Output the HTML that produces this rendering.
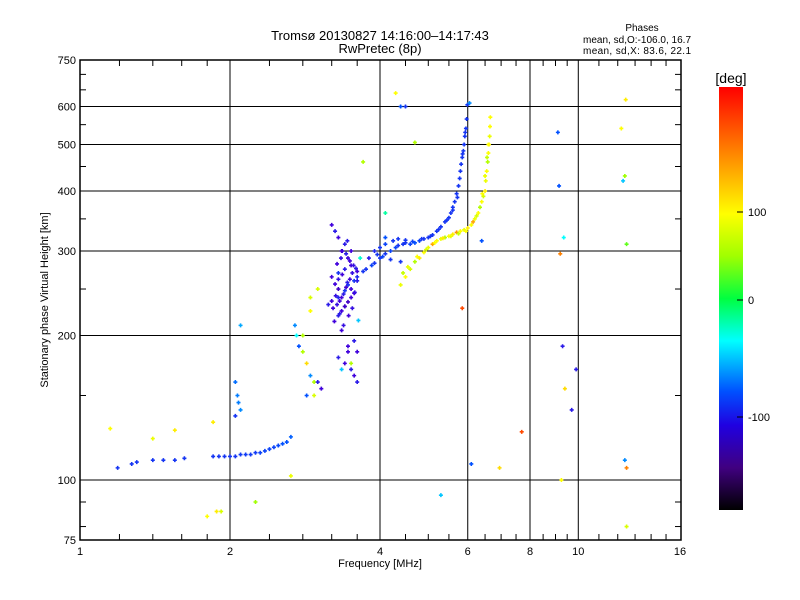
<!DOCTYPE html>
<html><head><meta charset="utf-8"><style>
body{margin:0;background:#fff;}
svg{display:block;font-family:"Liberation Sans",sans-serif;}
</style></head><body>
<svg id="chart" width="800" height="600" viewBox="0 0 800 600">
<rect width="800" height="600" fill="#fff"/>
<g id="grid"></g>
<g id="marks"></g>
<rect x="80" y="60" width="601" height="480" fill="none" stroke="#000" stroke-width="1.5"/>
<g id="ticks"></g>
<text x="380" y="40" font-size="13" text-anchor="middle">Tromsø 20130827 14:16:00–14:17:43</text>
<text x="380" y="53" font-size="13" text-anchor="middle">RwPretec (8p)</text>
<text x="642" y="31" font-size="10" text-anchor="middle">Phases</text>
<text x="583" y="43" font-size="10" textLength="108">mean, sd,O:-106.0, 16.7</text>
<text x="583" y="54" font-size="10" textLength="108">mean, sd,X:  83.6, 22.1</text>
<text x="380" y="567" font-size="11" text-anchor="middle">Frequency [MHz]</text>
<text transform="translate(48,300) rotate(-90)" font-size="11" text-anchor="middle">Stationary phase Virtual Height [km]</text>
<defs><linearGradient id="cb" x1="0" y1="0" x2="0" y2="1">
<stop offset="0" stop-color="#ff0000"/><stop offset="0.15" stop-color="#ff8000"/><stop offset="0.3" stop-color="#ffff00"/><stop offset="0.4" stop-color="#a0ff00"/><stop offset="0.5" stop-color="#00ff40"/><stop offset="0.6" stop-color="#00ffff"/><stop offset="0.72" stop-color="#0050ff"/><stop offset="0.8" stop-color="#2000e0"/><stop offset="0.9" stop-color="#400080"/><stop offset="1" stop-color="#000000"/>
</linearGradient></defs>
<rect x="719" y="87" width="24" height="423" fill="url(#cb)"/>
<text x="731" y="83" font-size="14" text-anchor="middle">[deg]</text>
<g id="cbt"></g>
</svg>
<script>
const xTickVals=[1,2,4,6,8,10,16];
const xTickLabels=["1","2","4","6","8","10","16"];
const yTickVals=[75,100,200,300,400,500,600,750];
const yTickLabels=["75","100","200","300","400","500","600","750"];
const cbVals=[100,0,-100];
const cbLabels=["100","0","-100"];
// O-mode trace
const oFreq=[1.19,1.27,1.3,1.4,1.47,1.55,1.62,1.85,1.9,1.95,2.0,2.05,2.1,2.15,2.2,2.25,2.3,2.35,2.4,2.45,2.5,2.55,2.6,2.65,2.05,2.07,2.08,2.1,3.3,3.4,3.45,3.55,3.6,3.7,3.75,3.85,3.9,4.0,4.1,4.2,4.3,4.35,4.45,4.5,4.6,4.7,4.8,4.9,5.0,5.1,5.2,5.3,5.4,5.5,5.55,5.6,5.65,5.7,5.75,5.8,5.82,5.85,5.88,5.9,5.92,5.95,5.97,5.99,3.8,3.95,4.05,4.2,4.4,3.9,4.0,4.1,4.25,4.35,4.5,4.65,4.85,5.05,5.25,5.45,5.6,5.72,5.78,5.86,5.93];
const oHeight=[106,108,109,110,110,110,111,112,112,112,112,112,113,113,113,114,114,115,116,117,118,119,120,123,160,150,145,140,240,248,255,260,265,272,275,280,283,290,296,300,305,308,310,312,310,312,315,318,320,324,330,337,345,352,360,370,380,395,410,440,455,470,485,500,520,540,565,605,290,295,292,288,285,300,305,310,315,318,316,314,318,322,333,348,365,388,425,478,530];
const oPhase=[-110,-110,-110,-110,-110,-110,-110,-110,-110,-110,-110,-110,-108,-108,-108,-108,-105,-105,-105,-105,-103,-100,-100,-95,-90,-85,-85,-80,-115,-110,-110,-110,-115,-110,-110,-105,-110,-110,-110,-105,-105,-110,-110,-110,-105,-100,-105,-110,-110,-110,-110,-110,-110,-110,-110,-110,-110,-110,-110,-110,-110,-110,-110,-110,-110,-110,-110,-110,-120,-110,-105,-110,-110,-115,-110,-105,-110,-110,-110,-105,-110,-110,-110,-110,-110,-110,-110,-110,-110];
// X-mode trace
const xFreq=[4.4,4.5,4.6,4.7,4.8,4.9,5.0,5.1,5.2,5.3,5.4,5.5,5.6,5.7,5.8,5.9,6.0,6.1,6.15,6.2,6.3,6.35,6.4,6.45,6.5,6.52,6.55,6.58,6.6,6.62,6.64,6.65,6.66,4.45,4.55,4.75,4.95,5.15,5.35,5.55,5.75,5.95,6.25,6.42,6.5,6.56,6.6];
const xHeight=[255,265,275,285,290,298,305,310,315,318,320,322,325,328,330,332,335,340,345,350,360,370,380,390,400,420,440,460,480,500,520,545,570,270,278,292,302,312,319,322,326,330,355,395,430,470,500];
const xPhase=[90,100,80,60,110,100,90,150,100,90,60,100,110,160,100,90,110,100,150,90,100,60,100,80,110,90,100,60,100,110,90,100,100,70,90,100,80,100,110,90,70,100,80,100,90,70,100];
// spread F cluster and scattered echoes
const sFreq=[3.2,3.25,3.3,3.35,3.4,3.45,3.5,3.3,3.35,3.4,3.45,3.5,3.55,3.3,3.35,3.4,3.2,3.3,3.4,3.5,3.6,3.35,3.45,3.55,3.6,3.4,3.5,2.75,2.8,2.85,2.9,2.95,3.0,3.05,2.7,2.72,2.95,2.85,3.45,3.5,3.55,3.6,3.3,3.35,3.62,1.15,1.4,1.55,1.8,1.85,1.88,1.92,2.05,2.25,2.65,2.1,4.3,4.4,4.5,3.7,4.1,4.7,5.3,5.85,6.05,6.1,6.4,6.95,7.7,9.1,9.15,9.2,9.25,9.3,9.35,9.4,9.7,9.9,12.2,12.3,12.4,12.4,12.5,12.5,12.45,12.5,4.1,3.65,3.0,2.9,2.8,2.9,
3.22,3.28,3.32,3.38,3.42,3.48,3.52,3.58,3.25,3.3,3.36,3.44,3.5,3.56,3.28,3.34,3.42,3.48,3.54,3.6,3.24,3.32,3.38,3.46,3.52,3.15,3.2,3.26,3.36,3.44];
const sHeight=[340,330,320,300,310,290,300,250,240,230,235,240,245,220,225,230,265,270,275,280,260,205,190,195,185,175,170,190,185,175,165,160,160,155,210,200,150,150,185,175,165,160,180,170,215,128,122,127,84,132,86,86,136,90,102,210,640,600,600,460,360,505,93,228,610,108,315,106,126,530,410,296,100,190,320,155,140,170,540,420,430,110,106,80,620,310,320,290,250,240,200,225,
228,232,236,244,252,262,270,276,256,262,268,258,250,246,282,290,296,286,280,272,214,222,210,220,228,232,236,242,300,315];
const sPhase=[-130,-120,-130,-140,-120,-130,-130,-140,-130,-120,-140,-130,-130,-120,-130,-140,-130,-110,-120,-130,-120,-130,-130,-120,-130,-130,-120,-100,60,120,-80,60,-120,-130,-80,-40,80,-100,-130,60,-130,-120,-120,-60,-60,100,90,110,100,110,110,80,-110,50,90,-70,100,-100,-110,60,-20,60,-60,200,-80,-100,-100,120,200,-100,-100,170,100,-120,-40,120,-120,-120,100,-60,50,-80,170,80,110,30,-100,-30,80,80,60,100,
-130,-125,-130,-120,-135,-130,-125,-120,-130,-125,-130,-120,-130,-125,-130,-125,-120,-130,-125,-130,-130,-120,-125,-130,-125,-120,-130,-125,-130,-120];

const NS='http://www.w3.org/2000/svg';
function xs(f){return 80+150*Math.log2(f);}
function ys(h){return 540-480*Math.log10(h/75);}
const stops=[[240,[255,0,0]],[170,[255,128,0]],[100,[255,255,0]],[50,[160,255,0]],[0,[0,255,64]],[-40,[0,255,255]],[-100,[0,80,255]],[-130,[64,0,220]],[-170,[64,0,128]],[-240,[0,0,0]]];
function col(p){
  if(p>=stops[0][0])return 'rgb(255,0,0)';
  for(let i=0;i<stops.length-1;i++){const a=stops[i],b=stops[i+1];
    if(p<=a[0]&&p>=b[0]){const t=(a[0]-p)/(a[0]-b[0]);const c=a[1].map((v,k)=>Math.round(v+(b[1][k]-v)*t));return 'rgb('+c.join(',')+')';}}
  return '#000';
}
function mk(tag,attrs,parent){const e=document.createElementNS(NS,tag);for(const k in attrs)e.setAttribute(k,attrs[k]);parent.appendChild(e);return e;}
const grid=document.getElementById('grid'),ticks=document.getElementById('ticks'),marks=document.getElementById('marks');
[2,4,6,8,10].forEach(f=>{const l=mk('line',{x1:xs(f),x2:xs(f),y1:60,y2:540,stroke:'#000','stroke-width':1},grid);

});
[100,200,300,400,500,600].forEach(h=>{const l=mk('line',{x1:80,x2:681,y1:ys(h),y2:ys(h),stroke:'#000','stroke-width':1},grid);

});
[1.2,1.4,1.6,1.8,2.4,2.8,3.2,3.6,4.5,5,5.5,6.5,7,7.5,8.5,9,9.5,11,12,13,14,15].forEach(f=>{
  mk('line',{x1:xs(f),x2:xs(f),y1:60,y2:66,stroke:'#000'},ticks);mk('line',{x1:xs(f),x2:xs(f),y1:534,y2:540,stroke:'#000'},ticks);});
[80,90,150,250,350,450,550,650,700].forEach(h=>{
  mk('line',{x1:80,x2:86,y1:ys(h),y2:ys(h),stroke:'#000'},ticks);mk('line',{x1:675,x2:681,y1:ys(h),y2:ys(h),stroke:'#000'},ticks);});
xTickVals.forEach((f,i)=>{const t=mk('text',{x:xs(f),y:555,'font-size':11,'text-anchor':'middle'},ticks);t.textContent=xTickLabels[i];

});
yTickVals.forEach((h,i)=>{const t=mk('text',{x:76,y:ys(h)+4,'font-size':11,'text-anchor':'end'},ticks);t.textContent=yTickLabels[i];

});
const cbt=document.getElementById('cbt');
function cby(v){return v>=0?300-v*0.88:300-v*1.17;}
cbVals.forEach((v,i)=>{mk('line',{x1:737,x2:743,y1:cby(v),y2:cby(v),stroke:'#000'},cbt);
const t=mk('text',{x:748,y:cby(v)+4,'font-size':11},cbt);t.textContent=cbLabels[i];

});
function plot(F,H,P,name){
  for(let i=0;i<F.length;i++){const x=xs(F[i]),y=ys(H[i]),c=col(P[i]);
    const p=mk('path',{d:`M${x-2} ${y}h4M${x} ${y-2}v4`,stroke:c,'stroke-width':1.6,fill:'none'},marks);
    
    }
}
plot(oFreq,oHeight,oPhase,'o-mode-echo');
plot(xFreq,xHeight,xPhase,'x-mode-echo');
plot(sFreq,sHeight,sPhase,'scattered-echo');
</script>
</body></html>
